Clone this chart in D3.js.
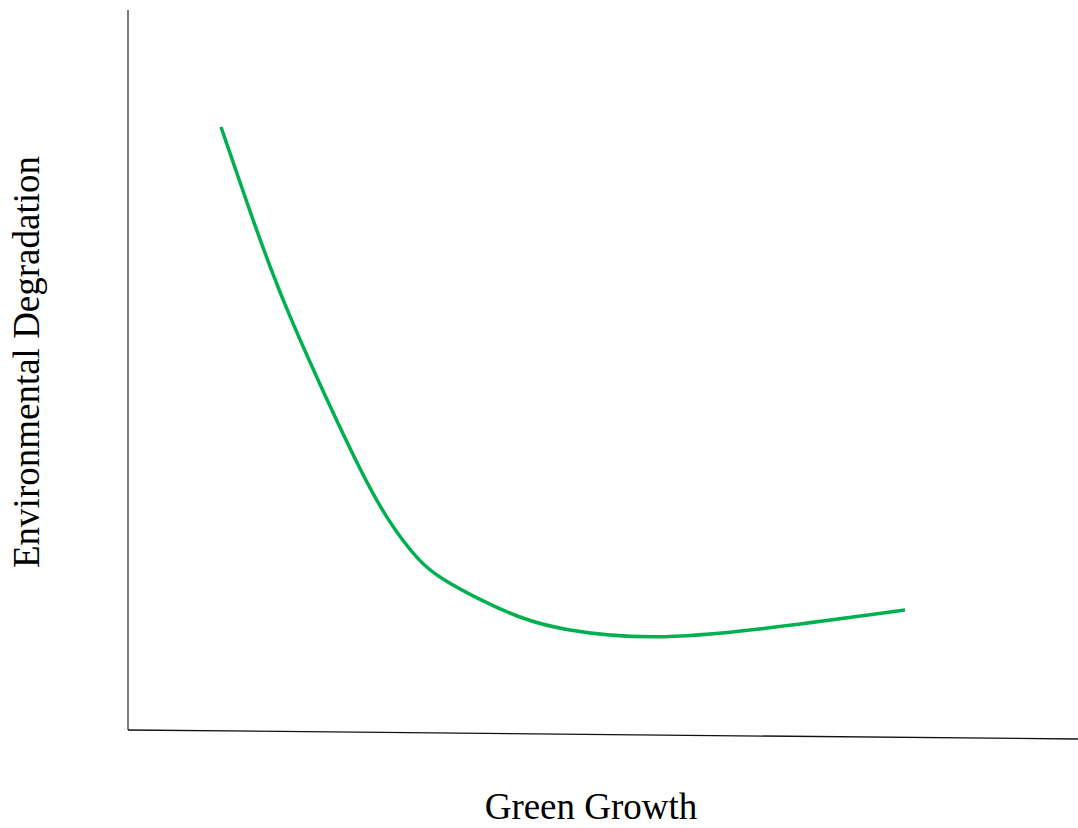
<!DOCTYPE html>
<html><head><meta charset="utf-8">
<script src="https://cdn.jsdelivr.net/npm/d3@7"></script>
<style>html,body{margin:0;padding:0;background:#fff;}svg{display:block;}</style>
</head><body>
<svg id="c" width="1078" height="828"></svg>
<script>
// Green growth (x) vs environmental degradation (y), arbitrary units
const growth      = [93, 122, 152, 192, 232, 259, 292, 312, 352, 392, 432, 522, 622, 777];
const degradation = [603, 518, 435, 345, 260, 210, 167, 152, 130, 112, 100, 90, 99, 120];
const xLabel = "Green Growth";
const yLabel = "Environmental Degradation";

const svg = d3.select("#c");
const x = d3.scaleLinear().domain([0, 950]).range([128, 1078]);
const y = d3.scaleLinear().domain([0, 720]).range([730, 10]);

// y axis
svg.append("line").attr("x1", x(0)).attr("x2", x(0)).attr("y1", y(720)).attr("y2", y(0))
  .attr("stroke", "#333").attr("stroke-width", 1.3);
// x axis (slightly slanted as in reference)
svg.append("line").attr("x1", x(0)).attr("y1", y(0)).attr("x2", x(950)).attr("y2", y(-9))
  .attr("stroke", "#111").attr("stroke-width", 1.3);

const pts = growth.map((g, i) => [g, degradation[i]]);
svg.append("path").datum(pts)
  .attr("fill", "none").attr("stroke", "#00b050").attr("stroke-width", 3.5)
  .attr("d", d3.line().x(d => x(d[0])).y(d => y(d[1])).curve(d3.curveBasis));

svg.append("text").attr("x", 591).attr("y", 819).attr("text-anchor", "middle")
  .style("font-family", "'Liberation Serif','Times New Roman',serif").style("font-size", "37px")
  .text(xLabel);
svg.append("text").attr("transform", "translate(39,362) rotate(-90)").attr("text-anchor", "middle")
  .style("font-family", "'Liberation Serif','Times New Roman',serif").style("font-size", "37px")
  .text(yLabel);
</script>
</body></html>
